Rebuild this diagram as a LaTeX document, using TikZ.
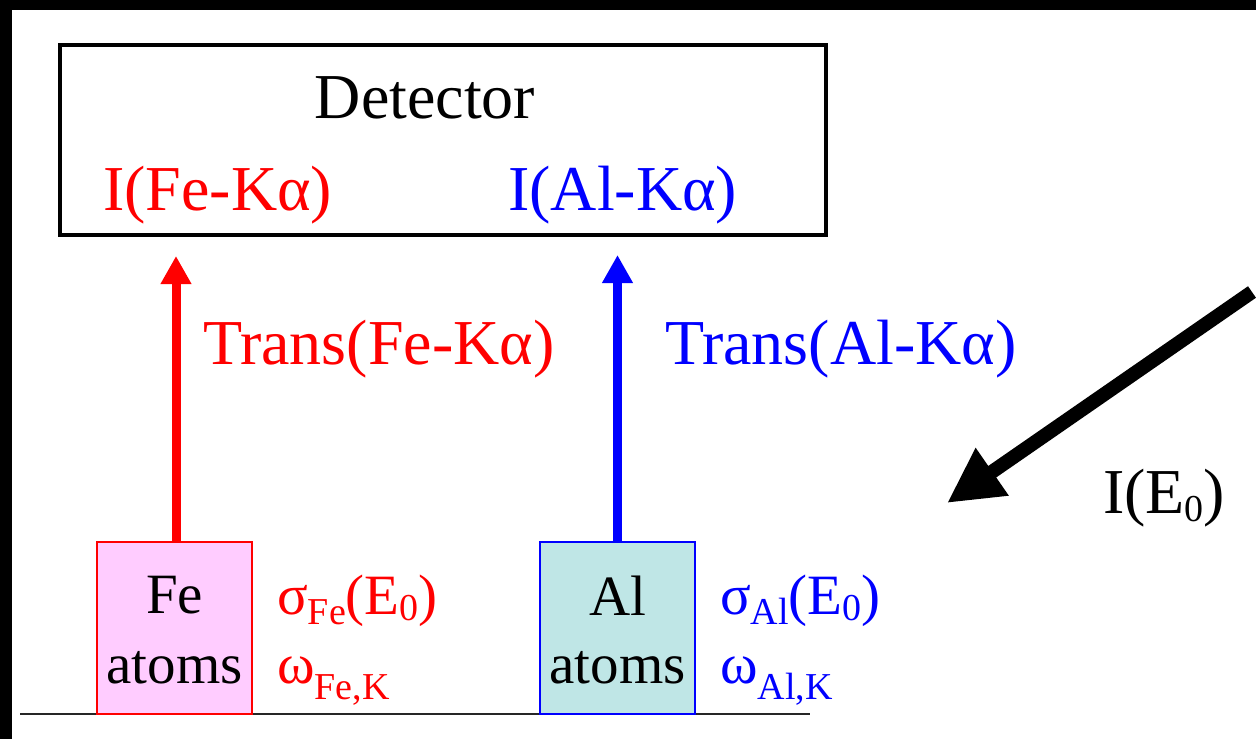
\documentclass[tikz,border=0pt]{standalone}
\usepackage{fontspec}
\setmainfont{Liberation Serif}
\usetikzlibrary{arrows.meta}
\definecolor{fepink}{RGB}{255,204,255}
\definecolor{alteal}{RGB}{191,230,230}
\newcommand{\lowsub}[2][10pt]{\raisebox{-#1}{\fontsize{38}{38}\selectfont #2}}
\begin{document}
\begin{tikzpicture}[x=1pt,y=-1pt,
  big/.style={font=\fontsize{64}{64}\selectfont, inner sep=0pt},
  mid/.style={font=\fontsize{57}{57}\selectfont, inner sep=0pt},
  atombox/.style={line width=2pt, minimum width=155pt, minimum height=172pt, inner sep=0pt},
  emitarrow/.style={line width=9pt, -{Triangle[length=28pt,width=29pt]}}]
\useasboundingbox (0,0) rectangle (1256,739);
\fill[black] (0,0) rectangle (1256,10);
\fill[black] (0,0) rectangle (12,739);

% detector
\node[draw, line width=3.5pt, minimum width=766pt, minimum height=190pt, inner sep=0pt] (det) at (443,140) {};
\node[big, anchor=base] (dettext) at (425,118) {Detector};
\node[big, anchor=base west, text=red] (ife) at (103,210) {I(Fe-Kα)};
\node[big, anchor=base west, text=blue] (ial) at (508,210) {I(Al-Kα)};

% ground line
\coordinate (gl) at (20,714);
\coordinate (gr) at (810,714);
\draw[line width=2.5pt, black!85] (gl) -- (gr);

% atom boxes
\node[atombox, draw=red, fill=fepink] (fe) at (174.5,628) {};
\node[atombox, draw=blue, fill=alteal] (al) at (617.5,628) {};
\node[mid, anchor=base] (fet1) at (174.5,613) {Fe};
\node[mid, anchor=base] (fet2) at (174.5,683) {atoms};
\node[mid, anchor=base] (alt1) at (617.5,615) {Al};
\node[mid, anchor=base] (alt2) at (617.5,683) {atoms};

% emission arrows
\coordinate (fetip) at (176,256);
\coordinate (altip) at (617.5,255);
\draw[emitarrow, red] (fe.north -| fetip) -- (fetip);
\draw[emitarrow, blue] (al.north) -- (altip);
\node[big, anchor=base west, text=red] (transfe) at (203,364) {Trans(Fe-Kα)};
\node[big, anchor=base west, text=blue] (transal) at (665,364) {Trans(Al-Kα)};

% cross sections
\node[mid, anchor=base west, text=red] (sigfe) at (277,614) {σ\lowsub{Fe}(E\lowsub[6pt]{0})};
\node[mid, anchor=base west, text=red] (omfe) at (277,683) {ω\lowsub[16pt]{Fe,K}};
\node[mid, anchor=base west, text=blue] (sigal) at (720,614) {σ\lowsub{Al}(E\lowsub[6pt]{0})};
\node[mid, anchor=base west, text=blue] (omal) at (720,683) {ω\lowsub[16pt]{Al,K}};

% incident beam
\coordinate (beamstart) at (1252,292);
\coordinate (beamtip) at (947,503);
\draw[line width=14pt, -{Triangle[length=55pt,width=54pt]}] (beamstart) -- (beamtip);
\node[big, anchor=base west] (ie0) at (1103,513) {I(E\lowsub[8pt]{0})};
\end{tikzpicture}
\end{document}
